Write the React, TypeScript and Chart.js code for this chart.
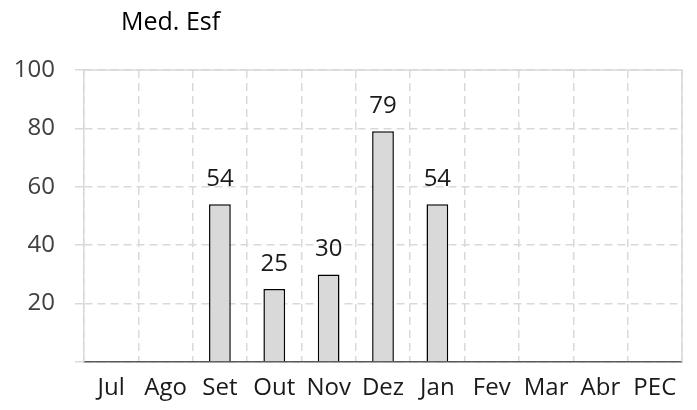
import React, { useEffect, useRef } from "react";
import { Chart, registerables } from "chart.js";

Chart.register(...registerables);

const TITLE = "Med. Esf";
const categories = ["Jul", "Ago", "Set", "Out", "Nov", "Dez", "Jan", "Fev", "Mar", "Abr", "PEC"];
const values: (number | null)[] = [null, null, 54, 25, 30, 79, 54, null, null, null, null];
const yTicks = [0, 20, 40, 60, 80, 100];

const FONT = "'Open Sans', sans-serif";

const framePlugin = {
  id: "frame",
  beforeDatasetsDraw(chart: any) {
    const { ctx, chartArea } = chart;
    ctx.save();
    ctx.strokeStyle = "#d9d9d9";
    ctx.lineWidth = 1.5;
    ctx.setLineDash([]);
    ctx.beginPath();
    ctx.moveTo(chartArea.left, chartArea.top);
    ctx.lineTo(chartArea.right, chartArea.top);
    ctx.lineTo(chartArea.right, chartArea.bottom);
    ctx.stroke();
    ctx.restore();
  },
  afterDraw(chart: any) {
    const { ctx, chartArea } = chart;
    ctx.save();
    ctx.fillStyle = "#000000";
    ctx.font = `25px ${FONT}`;
    ctx.textAlign = "left";
    ctx.textBaseline = "alphabetic";
    ctx.fillText(TITLE, chartArea.left + 37, 30);
    ctx.restore();
  },
};

const labelPlugin = {
  id: "barLabels",
  afterDatasetsDraw(chart: any) {
    const { ctx } = chart;
    const meta = chart.getDatasetMeta(0);
    ctx.save();
    ctx.fillStyle = "#1a1a1a";
    ctx.font = `24px ${FONT}`;
    ctx.textAlign = "center";
    ctx.textBaseline = "alphabetic";
    meta.data.forEach((bar: any, i: number) => {
      const v = values[i];
      if (v === null || v === undefined) return;
      ctx.fillText(String(v), bar.x, bar.y - 18);
    });
    ctx.restore();
  },
};

export default function App() {
  const ref = useRef<HTMLCanvasElement | null>(null);
  useEffect(() => {
    if (!ref.current) return;
    const chart = new Chart(ref.current, {
      type: "bar",
      data: {
        labels: categories,
        datasets: [
          {
            data: values as any,
            backgroundColor: "#d9d9d9",
            borderColor: "#000000",
            borderWidth: 1.5,
            barPercentage: 0.4,
            categoryPercentage: 1,
          },
        ],
      },
      plugins: [framePlugin, labelPlugin],
      options: {
        animation: false,
        responsive: true,
        maintainAspectRatio: false,
        layout: { padding: { top: 70, right: 15, left: 0, bottom: 0 } },
        plugins: {
          legend: { display: false },
          title: { display: false },
          tooltip: { enabled: false },
        },
        scales: {
          x: {
            offset: true,
            grid: {
              color: "#d9d9d9",
              lineWidth: 1.5,
              drawTicks: false,
              offset: true,
            },
            border: { display: true, color: "#595959", width: 1.5, dash: [8, 5] },
            ticks: {
              color: "#1a1a1a",
              font: { family: FONT, size: 24 },
              padding: 12,
              maxRotation: 0,
              autoSkip: false,
            },
            afterFit: (scale: any) => {
              scale.height = 48;
            },
          },
          y: {
            min: 0,
            max: 100,
            afterBuildTicks: (scale: any) => {
              scale.ticks = yTicks.map((v) => ({ value: v }));
            },
            grid: {
              color: "#d9d9d9",
              lineWidth: 1.5,
              drawTicks: true,
              tickLength: 9,
              tickColor: "#d9d9d9",
              tickBorderDash: [],
            },
            border: { display: true, color: "#d9d9d9", width: 1.5, dash: [8, 5] },
            ticks: {
              color: "#404040",
              font: { family: FONT, size: 24 },
              padding: 20,
              callback: (v: any) => (v === 0 ? "" : String(v)),
            },
            afterFit: (scale: any) => {
              scale.width = 84;
            },
          },
        },
      },
    });
    return () => chart.destroy();
  }, []);
  return (
    <div style={{ position: "fixed", left: 0, top: 0, width: 697, height: 410, background: "#fff" }}>
      <canvas ref={ref} />
    </div>
  );
}
